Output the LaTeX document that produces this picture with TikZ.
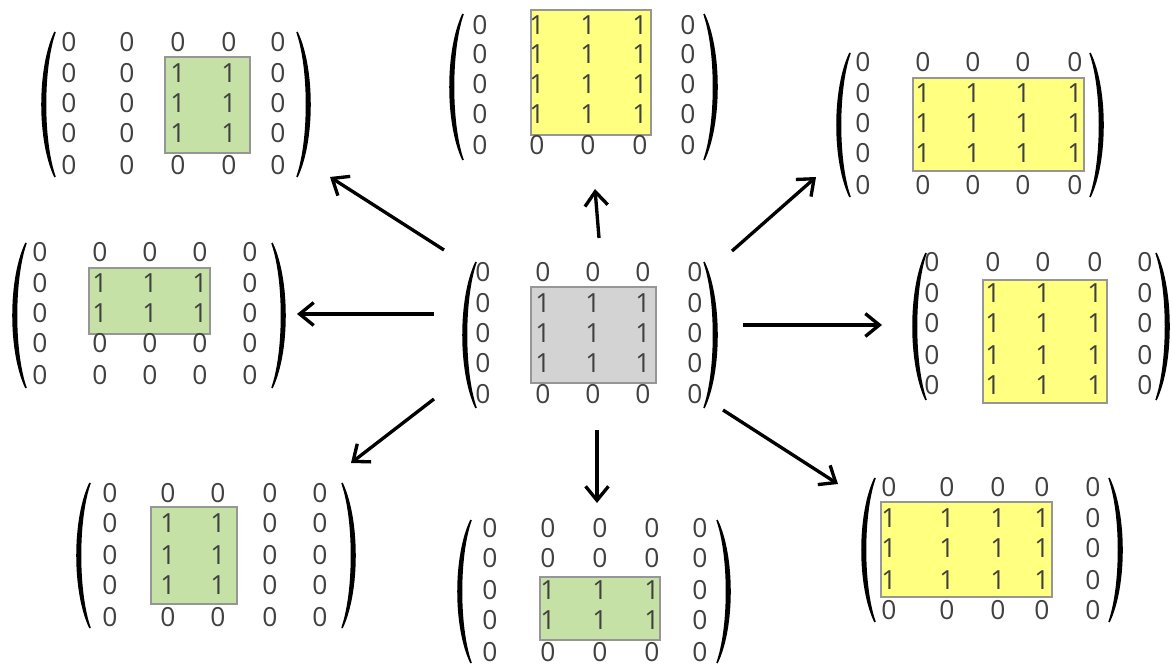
\documentclass[tikz,border=0pt]{standalone}
\usepackage{fontspec}
\setsansfont{Open Sans}
\usetikzlibrary{arrows.meta}

\definecolor{blockgreen}{RGB}{198,225,166}
\definecolor{blockyellow}{RGB}{255,255,128}
\definecolor{blockgray}{RGB}{211,211,211}
\definecolor{blockedge}{RGB}{150,150,150}

% 5x5 entries: name, row ys, column xs, rows #4..#5 and columns #6..#7 hold the ones
\newcommand{\blockmatrix}[7]{%
  \foreach \y [count=\i] in {#2} {
    \foreach \x [count=\j] in {#3} {
      \pgfmathtruncatemacro{\val}{(\i>=#4)&&(\i<=#5)&&(\j>=#6)&&(\j<=#7)}
      \node[entry] (#1-\i-\j) at (\x,\y) {\val};
    }
  }}

% round brackets: left bulge, right bulge, top, bottom
\newcommand{\brackets}[4]{%
  \fill[paren] (#1+13,#3) .. controls (#1-4.3,{#3+0.25*(#4-#3)}) and (#1-4.3,{#3+0.75*(#4-#3)}) .. (#1+13,#4)
    .. controls (#1+0.3,{#3+0.75*(#4-#3)}) and (#1+0.3,{#3+0.25*(#4-#3)}) .. cycle;
  \fill[paren] (#2-13,#3) .. controls (#2+4.3,{#3+0.25*(#4-#3)}) and (#2+4.3,{#3+0.75*(#4-#3)}) .. (#2-13,#4)
    .. controls (#2-0.3,{#3+0.75*(#4-#3)}) and (#2-0.3,{#3+0.25*(#4-#3)}) .. cycle;}

\begin{document}
\begin{tikzpicture}[x=0.02cm,y=-0.02cm]
\tikzset{entry/.style = {font=\sffamily\fontsize{15}{18}\selectfont, text=black!75, inner sep=0pt}}
\tikzset{paren/.style = {fill=black, draw=black, line width=0.9pt, line cap=round}}
\tikzset{green block/.style = {fill=blockgreen, draw=blockedge, line width=0.8pt}}
\tikzset{yellow block/.style = {fill=blockyellow, draw=blockedge, line width=0.8pt}}
\tikzset{gray block/.style = {fill=blockgray, draw=blockedge, line width=0.8pt}}
\tikzset{arrow/.style = {line width=1.9pt, -{Straight Barb[length=8pt,width=13pt]}}}
\useasboundingbox (0,0) rectangle (1172,668);

% matrix in the middle
\draw[gray block] (531,287) rectangle (656,383);
\blockmatrix{mid}{272,303,333,363,394}{483,543,593,643,695}{2}{4}{2}{4}
\brackets{463}{717}{262}{408}

% green ones: upper left, left, lower left, bottom
\draw[green block] (165,57) rectangle (250,153);
\blockmatrix{nw}{42,73,103,133,165}{69,127,178,229,278}{2}{4}{3}{4}
\brackets{42}{310}{32}{177}

\draw[green block] (89,268) rectangle (210,334);
\blockmatrix{w}{252,283,313,343,375}{40,100,150,200,250}{2}{3}{2}{4}
\brackets{13}{285}{243}{388}

\draw[green block] (151,507) rectangle (237,604);
\blockmatrix{sw}{493,523,555,585,617}{110,168,218,270,320}{2}{4}{2}{3}
\brackets{77}{355}{483}{628}

\draw[green block] (540,577) rectangle (660,640);
\blockmatrix{s}{528,558,590,620,652}{490,548,600,652,700}{3}{4}{2}{4}
\brackets{458}{730}{520}{663}

% yellow ones: top, upper right, right, lower right
\draw[yellow block] (531,10) rectangle (651,135);
\blockmatrix{n}{25,54,84,114,145}{480,537,588,640,688}{1}{4}{2}{4}
\brackets{450}{717}{14}{160}

\draw[yellow block] (913,78) rectangle (1084,171);
\blockmatrix{ne}{62,93,123,153,185}{863,923,973,1023,1075}{2}{4}{2}{5}
\brackets{837}{1103}{53}{197}

\draw[yellow block] (983,280) rectangle (1107,403);
\blockmatrix{e}{262,293,323,355,385}{932,993,1043,1095,1145}{2}{5}{2}{4}
\brackets{913}{1169}{253}{400}

\draw[yellow block] (881,502) rectangle (1052,597);
\blockmatrix{se}{487,518,548,580,610}{889,947,998,1042,1093}{2}{4}{1}{4}
\brackets{862}{1122}{478}{622}

% arrow ends
\coordinate (mid-nw) at (444,250);  \coordinate (nw-in) at (330,177);
\coordinate (mid-w) at (434,314);   \coordinate (w-in) at (297,314);
\coordinate (mid-sw) at (434,399);  \coordinate (sw-in) at (351,463);
\coordinate (mid-n) at (599,238);   \coordinate (n-in) at (595,189);
\coordinate (mid-s) at (597,430);   \coordinate (s-in) at (597,503);
\coordinate (mid-ne) at (732,251);  \coordinate (ne-in) at (816,177);
\coordinate (mid-e) at (743,325);   \coordinate (e-in) at (882,325);
\coordinate (mid-se) at (723,410);  \coordinate (se-in) at (838,484);

\foreach \d in {nw,w,sw,n,s,ne,e,se}
  \draw[arrow] (mid-\d) -- (\d-in);
\end{tikzpicture}
\end{document}
